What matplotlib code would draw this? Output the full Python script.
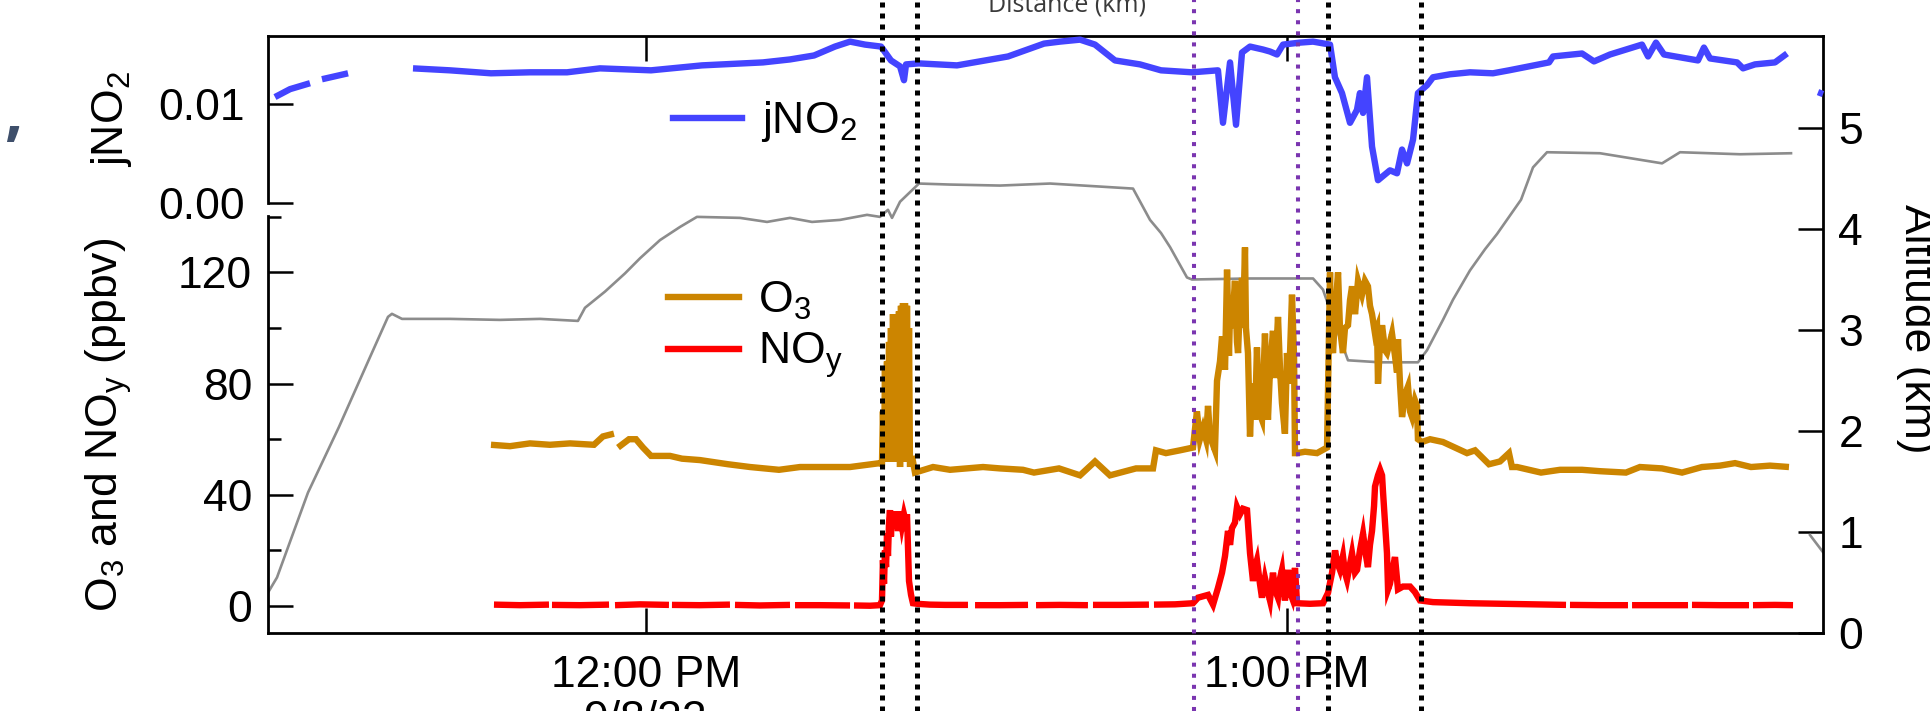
import numpy as np
import matplotlib
matplotlib.use("Agg")
import matplotlib.pyplot as plt
from matplotlib.lines import Line2D
from matplotlib.transforms import blended_transform_factory

plt.rcParams['font.family'] = ['Liberation Sans', 'DejaVu Sans']
plt.rcParams['mathtext.fontset'] = 'custom'
plt.rcParams['mathtext.rm'] = 'Liberation Sans'
plt.rcParams['mathtext.it'] = 'Liberation Sans:italic'

nan = np.nan

# time is minutes after 12:00 PM (9/8/22)
alt_t = [-35.38, -34.54, -31.64, -28.74, -25.84, -24.15, -23.78, -22.84, -18.35, -13.67,
         -9.92, -6.37, -5.71, -3.84, -1.97, -0.56, 1.31, 3.18, 4.77, 8.80,
         11.33, 13.48, 15.54, 18.16, 20.69, 21.90, 22.65, 23.03, 23.78, 25.55,
         28.46, 33.14, 37.82, 42.50, 45.59, 47.18, 48.21, 49.06, 50.64, 51.11,
         56.54, 62.44, 63.37, 64.68, 65.71, 68.71, 72.26, 73.11, 74.60, 75.54,
         77.13, 78.54, 79.66, 81.91, 83.03, 84.34, 89.30, 95.11, 96.79, 102.41,
         107.18, 107.5, 108.96, 110.18]
alt_km = [0.40, 0.55, 1.39, 2.04, 2.73, 3.13, 3.16, 3.11, 3.11, 3.10,
          3.11, 3.09, 3.22, 3.38, 3.56, 3.71, 3.89, 4.02, 4.12, 4.11,
          4.07, 4.11, 4.07, 4.09, 4.14, 4.12, 4.19, 4.11, 4.27, 4.45,
          4.44, 4.43, 4.45, 4.42, 4.40, 4.09, 3.96, 3.82, 3.52, 3.50,
          3.51, 3.51, 3.40, 3.00, 2.70, 2.68, 2.68, 2.80, 3.10, 3.30,
          3.59, 3.80, 3.95, 4.29, 4.61, 4.76, 4.75, 4.65, 4.76, 4.74,
          4.75, nan, 0.97, 0.80]

j_t = [-34.73, -33.32, -31.45, -30.9, -30.33, -29.11, -27.89, -25.0, -21.81, -18.35,
       -14.51, -10.86, -7.39, -4.31, 0.47, 5.24, 10.95, 13.48, 15.73, 17.69,
       19.10, 20.50, 22.00, 22.93, 23.78, 24.15, 24.34, 25.55, 29.11, 33.89,
       37.26, 38.75, 40.63, 42.03, 43.90, 46.24, 48.21, 51.11, 53.54, 54.01,
       54.67, 55.23, 55.79, 56.54, 57.76, 58.41, 59.07, 59.63, 61.22, 62.44,
       64.03, 64.49, 65.15, 65.90, 66.55, 66.83, 67.12, 67.49, 67.96, 68.52,
       69.64, 70.30, 70.77, 71.24, 71.80, 72.26, 73.11, 73.67, 75.26, 77.13,
       79.28, 80.78, 84.53, 84.90, 87.62, 88.74, 90.24, 93.23, 93.80, 94.54,
       95.29, 98.47, 99.03, 99.60, 102.13, 102.69, 103.81, 105.68, 106.81, 108.0,
       109.71, 110.18]
j_no2 = [0.0107, 0.0115, 0.0121, nan, 0.0125, 0.0128, 0.0131, nan, 0.0136, 0.0134,
         0.0131, 0.0132, 0.0132, 0.0136, 0.0134, 0.0139, 0.0142, 0.0145, 0.0149, 0.0158,
         0.0163, 0.0160, 0.0158, 0.0144, 0.0138, 0.0124, 0.0140, 0.0141, 0.0139, 0.0148,
         0.0161, 0.0163, 0.0165, 0.0160, 0.0144, 0.0140, 0.0134, 0.0132, 0.0134, 0.0081,
         0.0142, 0.0079, 0.0152, 0.0158, 0.0155, 0.0153, 0.0150, 0.0160, 0.0162, 0.0163,
         0.0160, 0.0127, 0.0111, 0.0081, 0.0094, 0.0111, 0.0091, 0.0127, 0.0057, 0.0023,
         0.0033, 0.0030, 0.0054, 0.0040, 0.0064, 0.0111, 0.0119, 0.0127, 0.0130, 0.0132,
         0.0131, 0.0134, 0.0142, 0.0148, 0.0151, 0.0143, 0.0150, 0.0160, 0.0148, 0.0162,
         0.0150, 0.0144, 0.0157, 0.0146, 0.0142, 0.0136, 0.0140, 0.0142, 0.0151, nan,
         0.0112, 0.0110]

o3_t = [-14.51, -12.73, -10.86, -8.99, -7.11, -4.87, -4.03, -3.00, -2.8, -2.62,
        -1.59, -0.94, -0.28, 0.47, 0.94, 2.25, 3.37, 5.05, 7.68, 9.74,
        12.45, 14.42, 17.22, 19.10, 21.90, 22.09, 22.18, 22.28, 22.37, 22.47,
        22.56, 22.65, 22.75, 22.84, 22.93, 23.03, 23.12, 23.21, 23.31, 23.40,
        23.50, 23.59, 23.68, 23.78, 23.87, 23.96, 24.06, 24.15, 24.24, 24.34,
        24.43, 24.53, 24.62, 24.71, 24.8, 24.90, 25.18, 26.87, 28.46, 31.55,
        33.14, 35.29, 36.32, 38.66, 40.63, 42.03, 43.43, 45.87, 47.46, 47.74,
        48.67, 49.98, 51.20, 51.57, 51.85, 52.14, 52.42, 52.61, 52.79, 53.26,
        53.45, 53.73, 53.92, 54.20, 54.39, 54.57, 54.67, 54.85, 55.13, 55.32,
        55.42, 55.60, 55.79, 55.88, 56.07, 56.16, 56.35, 56.54, 56.73, 57.01,
        57.19, 57.38, 57.66, 57.94, 58.13, 58.22, 58.41, 58.69, 58.88, 59.16,
        59.35, 59.53, 59.81, 60.00, 60.19, 60.47, 60.66, 60.75, 60.94, 61.69,
        62.81, 63.75, 64.03, 64.12, 64.31, 64.50, 64.78, 64.96, 65.24, 65.43,
        65.71, 65.90, 66.09, 66.37, 66.65, 67.02, 67.30, 67.58, 67.77, 67.96,
        68.24, 68.43, 68.52, 68.71, 68.90, 69.18, 69.36, 69.64, 69.83, 70.11,
        70.30, 70.39, 70.58, 70.77, 71.05, 71.33, 71.52, 71.70, 71.98, 72.17,
        72.26, 72.64, 73.39, 74.60, 75.73, 76.85, 77.60, 78.91, 79.94, 80.78,
        81.06, 81.53, 83.78, 85.56, 87.62, 89.30, 91.73, 93.04, 95.10, 96.98,
        98.85, 100.53, 101.94, 103.44, 105.21, 106.99]
o3_ppbv = [58, 57.5, 58.5, 58, 58.5, 58, 61, 62, nan, 57,
           60, 60, 57, 54, 54, 54, 53, 52.5, 51, 50,
           49, 50, 50, 50, 51.4, 51, 70, 52, 85, 55,
           88, 52, 95, 55, 100, 52, 105, 60, 104, 52,
           105, 55, 106, 50, 108, 52, 109, 55, 109, 52,
           108, 60, 100, 50, nan, 54, 48, 50, 49, 50,
           49.5, 49, 48, 49.5, 47, 52, 47, 49.5, 49.5, 56,
           55, 56, 57, 70, 60, 64, 60, 72, 61, 56,
           81, 88, 97, 85, 121, 90, 106, 100, 117, 95,
           91, 110, 118, 100, 129, 100, 91, 61, 80, 67,
           93, 70, 67, 98, 75, 67, 85, 99, 82, 104,
           85, 73, 62, 91, 80, 112, 90, 55, 55, 55.5,
           55, 57, 120, 95, 91, 105, 120, 100, 91, 100,
           101, 110, 115, 105, 117, 112, 117, 115, 108, 105,
           98, 100, 80, 95, 101, 92, 91, 95, 98, 90,
           84, 96, 80, 68, 76, 79, 70, 68, 74, 72,
           60, 59, 60, 59, 57, 55, 56, 51, 52, 55,
           50, 50, 48, 49, 49, 48.5, 48, 50, 49.5, 48,
           50, 50.5, 51.4, 50, 50.5, 50]

noy_t = [-14.23, -11.79, -9.08, -8.94, -8.80, -6.18, -3.46, -3.2, -2.90, -0.56,
         2.15, 2.3, 2.43, 5.05, 7.86, 8.1, 8.33, 10.67, 13.48, 13.7,
         13.95, 16.29, 19.10, 19.3, 19.47, 20.97, 21.90, 22.09, 22.18, 22.28,
         22.37, 22.47, 22.56, 22.65, 22.75, 22.84, 22.93, 23.03, 23.21, 23.40,
         23.59, 23.78, 23.96, 24.15, 24.34, 24.43, 24.62, 24.81, 24.99, 25.37,
         26.58, 27.99, 30.14, 30.5, 30.80, 33.14, 35.76, 36.1, 36.51, 38.75,
         41.37, 41.6, 41.84, 44.37, 47.08, 47.3, 47.55, 49.52, 51.20, 51.67,
         52.14, 52.61, 53.08, 53.54, 53.92, 54.20, 54.48, 54.67, 54.85, 55.13,
         55.32, 55.60, 55.88, 56.26, 56.54, 56.82, 57.01, 57.19, 57.47, 57.66,
         57.94, 58.22, 58.41, 58.69, 58.88, 59.16, 59.35, 59.53, 59.81, 60.10,
         60.28, 60.47, 60.75, 60.94, 62.16, 63.37, 63.84, 64.22, 64.50, 64.68,
         64.96, 65.24, 65.43, 65.62, 65.90, 66.09, 66.37, 66.56, 66.83, 67.12,
         67.40, 67.58, 67.77, 67.96, 68.15, 68.24, 68.52, 68.71, 68.90, 68.99,
         69.18, 69.36, 69.46, 69.64, 69.92, 70.11, 70.30, 70.39, 70.86, 71.52,
         71.98, 72.45, 73.67, 77.13, 79.94, 83.68, 86.12, 86.3, 86.49, 89.30,
         91.92, 92.1, 92.30, 94.92, 97.54, 97.7, 97.91, 100.53, 103.25, 103.4,
         103.62, 105.68, 107.37]
noy_ppbv = [0.5, 0.3, 0.5, nan, 0.4, 0.3, 0.5, nan, 0.3, 0.6,
            0.4, nan, 0.4, 0.3, 0.5, nan, 0.4, 0.2, 0.4, nan,
            0.3, 0.3, 0.2, nan, 0.2, 0.1, 0.3, 2, 16.5, 8,
            20, 14, 26, 18, 30, 34.5, 25, 34, 28, 34,
            27, 34, 29, 33, 30, 33, 9, 4, 1, 0.8,
            0.5, 0.4, 0.4, nan, 0.3, 0.3, 0.4, nan, 0.3, 0.4,
            0.3, nan, 0.4, 0.4, 0.5, nan, 0.5, 0.6, 1, 3,
            3.5, 4, 0.5, 6.5, 12, 18, 27, 22, 28, 30,
            35.6, 33, 35, 34.5, 19, 9, 14, 16.5, 8, 3,
            10, 5, 2, 12, 6, 3, 10, 13, 2, 13,
            5, 3, 13.7, 1, 0.8, 1, 4.7, 12, 20, 16,
            13, 18, 12, 9.4, 15, 19, 12, 13, 20, 26,
            18, 14, 22, 27, 36, 43, 47, 49, 47, 41,
            30, 19, 6, 8, 14, 17.6, 10, 6, 7, 7,
            5, 2, 1.4, 1, 0.8, 0.5, 0.4, nan, 0.4, 0.3,
            0.3, nan, 0.3, 0.3, 0.3, nan, 0.4, 0.3, 0.3, nan,
            0.3, 0.4, 0.3]

# flight segment markers (minutes after noon)
black_marks = [22.1, 25.4, 63.8, 72.5]
purple_marks = [51.3, 61.0]

x_ticks = [0, 60]
x_ticklabels = ["12:00 PM", "1:00 PM"]
x_range = (-35.38, 110.18)

c_j = '#4444ff'
c_o3 = '#cc8500'
c_noy = '#ff0000'
c_alt = '#8c8c8c'
lw_data = 4.6

fig = plt.figure(figsize=(19.31, 7.11), dpi=100)
L, W = 0.1388, 0.8053
ax_alt = fig.add_axes([L, 0.1097, W, 0.8397])
ax_j = fig.add_axes([L, 0.7145, W, 0.2349])
ax_o = fig.add_axes([L, 0.1097, W, 0.5865])

for a in (ax_alt, ax_j, ax_o):
    a.set_xlim(*x_range)
    a.patch.set_visible(False)
    for s in a.spines.values():
        s.set_linewidth(2.0)
        s.set_visible(False)

tick_kw = dict(direction='in', length=18, width=1.8, labelsize=32)

# altitude (right axis, full height)
ax_alt.plot(alt_t, alt_km, color=c_alt, lw=1.9)
ax_alt.set_ylim(0, 5.911)
ax_alt.spines['top'].set_visible(True)
ax_alt.spines['right'].set_visible(True)
ax_alt.yaxis.tick_right()
ax_alt.set_yticks([0, 1, 2, 3, 4, 5])
ax_alt.tick_params(axis='y', pad=11, **tick_kw)
ax_alt.xaxis.tick_top()
ax_alt.set_xticks(x_ticks)
ax_alt.set_xticklabels([])
ax_alt.tick_params(axis='x', **tick_kw)
ax_alt.text(1.047, 0.51, "Altitude (km)", transform=ax_alt.transAxes, rotation=270,
            rotation_mode='anchor', ha='center', va='bottom', fontsize=32)

# jNO2
ax_j.plot(j_t, j_no2, color=c_j, lw=lw_data, solid_capstyle='butt', clip_on=False)
ax_j.set_ylim(0, 0.01687)
ax_j.spines['left'].set_visible(True)
ax_j.set_yticks([0.0, 0.01])
ax_j.set_yticklabels(["0.00", "0.01"])
ax_j.tick_params(axis='y', pad=17, **tick_kw)
ax_j.set_xticks([])
ax_j.set_ylabel(r"jNO$_\mathregular{2}$", fontsize=32)
ax_j.yaxis.set_label_coords(-0.0862, 0.5)
ax_j.legend(handles=[Line2D([], [], color=c_j, lw=lw_data)], labels=[r"jNO$_\mathregular{2}$"],
            loc='center left', bbox_to_anchor=(673 / 1931, 1 - 122 / 711),
            bbox_transform=fig.transFigure, frameon=False, fontsize=32,
            borderpad=0, borderaxespad=0, handlelength=1.55, handletextpad=0.42)

# O3 and NOy
ax_o.plot(o3_t, o3_ppbv, color=c_o3, lw=lw_data, solid_capstyle='butt', solid_joinstyle='miter')
ax_o.plot(noy_t, noy_ppbv, color=c_noy, lw=lw_data, solid_capstyle='butt', solid_joinstyle='miter')
ax_o.set_ylim(-9.71, 140.3)
ax_o.spines['left'].set_visible(True)
ax_o.spines['bottom'].set_visible(True)
ax_o.set_yticks([0, 40, 80, 120])
ax_o.set_yticks([20, 60, 100, 140], minor=True)
ax_o.tick_params(axis='y', pad=11.5, **tick_kw)
ax_o.tick_params(axis='y', which='minor', direction='in', length=9.5, width=1.8)
ax_o.set_xticks(x_ticks)
ax_o.set_xticklabels(x_ticklabels)
ax_o.tick_params(axis='x', pad=16, **tick_kw)
ax_o.set_ylabel(r"O$_\mathregular{3}$ and NO$_\mathregular{y}$ (ppbv)", fontsize=32)
ax_o.yaxis.set_label_coords(-0.0862, 0.5)
ax_o.legend(handles=[Line2D([], [], color=c_o3, lw=lw_data), Line2D([], [], color=c_noy, lw=lw_data)],
            labels=[r"O$_\mathregular{3}$", r"NO$_\mathregular{y}$"],
            loc='center left', bbox_to_anchor=(668 / 1931, 1 - 330 / 711),
            bbox_transform=fig.transFigure, frameon=False, fontsize=32,
            borderpad=0, borderaxespad=0, handlelength=1.6, handletextpad=0.42,
            labelspacing=0.2)

# date under the first tick (cropped by the lower edge, as in the source)
fig.text(ax_o.transData.transform((0, 0))[0] / fig.bbox.width, 1 - 700 / 711, "9/8/22",
         ha='center', va='top', fontsize=32)

# dotted markers across the whole figure
tr = blended_transform_factory(ax_o.transData, fig.transFigure)
for t in black_marks:
    fig.add_artist(Line2D([t, t], [0, 1], transform=tr, color='black', lw=3.6,
                          linestyle=(0, (1, 1.2)), dash_capstyle='butt', zorder=5))
for t in purple_marks:
    fig.add_artist(Line2D([t, t], [0, 1], transform=tr, color='#7a35b0', lw=2.9,
                          linestyle=(0, (1, 1.75)), dash_capstyle='butt', zorder=5))

# cropped fragments of the surrounding page
fig.text(1067 / 1931, 1 - 12 / 711, "Distance (km)", ha='center', va='baseline',
         fontsize=18, color='#3a3a3a', family=['Open Sans', 'DejaVu Sans'])
fig.text(4 / 1931, 1 - 134 / 711, ",", ha='left', va='baseline', fontsize=46,
         color='#3e4f6b', weight='bold', family=['Open Sans', 'DejaVu Sans'])

fig.savefig("out.png", dpi=100)
